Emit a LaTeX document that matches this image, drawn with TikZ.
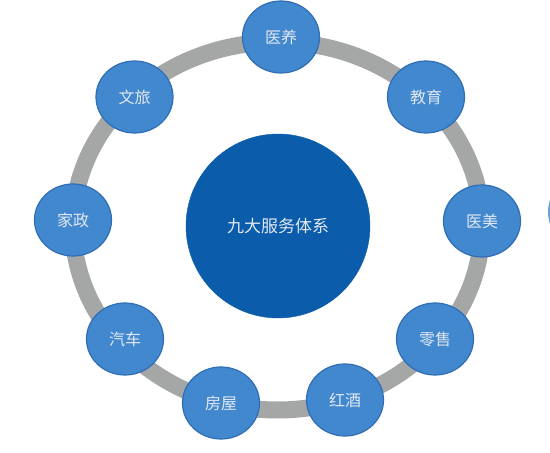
\documentclass[tikz,border=0pt]{standalone}
\usepackage{fontspec}
\newfontfamily\cjk{Noto Sans CJK SC}
\usetikzlibrary{shapes.geometric}
\definecolor{ringgray}{HTML}{A5A6A6}
\definecolor{nodeblue}{HTML}{4288CF}
\definecolor{nodeedge}{HTML}{2F6DB5}
\definecolor{hubblue}{HTML}{0B5CAB}
\definecolor{txtcol}{HTML}{E1E8F1}
\definecolor{faintblue}{HTML}{6FA3D8}
\tikzset{
  ringline/.style={draw=ringgray, line width=17pt},
  hubnode/.style={circle, fill=hubblue, draw=hubblue, minimum size=184pt, inner sep=0pt,
    text=txtcol, font=\cjk\fontsize{17}{20}\selectfont},
  sector/.style={ellipse, fill=nodeblue, draw=nodeedge, line width=1.2pt,
    minimum width=77pt, minimum height=72pt, inner sep=0pt,
    text=txtcol, font=\cjk\fontsize{16}{19}\selectfont},
  edgepart/.style={circle, fill=faintblue, minimum size=76pt, inner sep=0pt}
}
\begin{document}
\begin{tikzpicture}[x=1pt,y=-1pt]
\useasboundingbox (0,0) rectangle (550,453);
\clip (0,0) rectangle (550,453);
\fill[white] (0,0) rectangle (550,453);
\coordinate (ringc) at (277.5,226);
\draw[ringline] (ringc) ellipse [x radius=204.5, y radius=184];
\node[hubnode] (hub) at (278,226) {九大服务体系};
\node[sector] (yiyang) at (281,37) {医养};
\node[sector] (jiaoyu) at (426,97) {教育};
\node[sector] (yimei) at (482,221) {医美};
\node[sector] (lingshou) at (435,339) {零售};
\node[sector] (hongjiu) at (345,400) {红酒};
\node[sector] (fangwu) at (221,403) {房屋};
\node[sector] (qiche) at (125,339) {汽车};
\node[sector] (jiazheng) at (73,220) {家政};
\node[sector] (wenlv) at (134.5,97) {文旅};
\node[edgepart] (offpage) at (586,212) {};
\end{tikzpicture}
\end{document}
